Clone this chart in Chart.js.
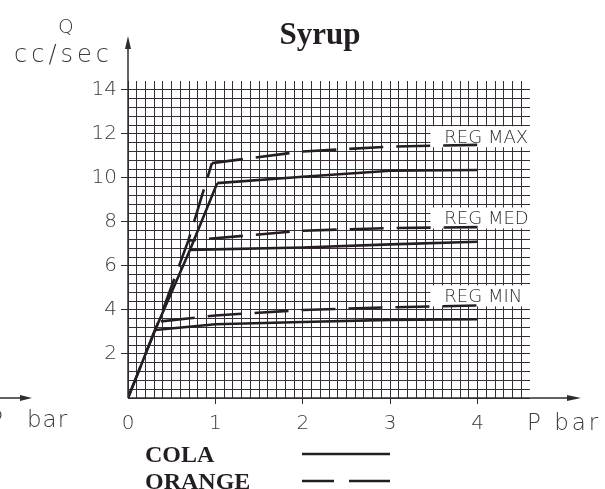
<!DOCTYPE html>
<html><head><meta charset="utf-8">
<script src="https://cdn.jsdelivr.net/npm/chart.js@4/dist/chart.umd.min.js"></script>
<style>html,body{margin:0;padding:0;background:#fff}#wrap{width:605px;height:489px;position:relative}</style>
</head><body><div id="wrap"><canvas id="c" width="605" height="489"></canvas></div>
<script>
// ---- text ----
const chartTitle = 'Syrup';
const yAxisTitle = ['Q', 'cc/sec'];
const xAxisTitle = 'P bar';
const xTickLabels = ['0', '1', '2', '3', '4'];
const yTickLabels = ['2', '4', '6', '8', '10', '12', '14'];
const regLabels = ['REG MAX', 'REG MED', 'REG MIN'];
const legendLabels = ['COLA', 'ORANGE'];

// ---- data (P bar, Q cc/sec) ----
const colaRiseX = [0, 0.31, 0.71, 1.02];
const colaRiseY = [0, 3.09, 6.73, 9.76];
const orangeRiseX = [0, 0.30, 0.35, 0.69, 0.96];
const orangeRiseY = [0, 3.0, 3.47, 7.15, 10.67];

const colaMaxX = [1.02, 2, 3, 4];
const colaMaxY = [9.76, 10.05, 10.32, 10.36];
const orangeMaxX = [0.96, 2, 3, 4];
const orangeMaxY = [10.67, 11.2, 11.42, 11.5];

const colaMedX = [0.71, 2, 3, 4];
const colaMedY = [6.73, 6.84, 6.98, 7.1];
const orangeMedX = [0.69, 2, 3, 4];
const orangeMedY = [7.15, 7.6, 7.72, 7.76];

const colaMinX = [0.31, 1, 2, 3, 4];
const colaMinY = [3.09, 3.35, 3.45, 3.55, 3.58];
const orangeMinX = [0.35, 1, 2, 3, 4];
const orangeMinY = [3.47, 3.75, 4.0, 4.12, 4.2];

// ---- helpers ----
const pts = (xs, ys) => xs.map((x, i) => ({ x, y: ys[i] }));
const gridX = []; for (let i = 0; i <= 45; i++) gridX.push(i / 10);
const gridY = []; for (let i = 0; i <= 35; i++) gridY.push(Math.round(i * 4) / 10);
const isXLabel = v => Math.abs(v - Math.round(v)) < 1e-6 && xTickLabels.includes(String(Math.round(v)));
const isYLabel = v => Math.abs(v / 2 - Math.round(v / 2)) < 1e-6 && yTickLabels.includes(String(Math.round(v)));

const ink = '#241e24';
const gridColor = '#362d36';
const axisColor = '#2e2e2e';
const labelColor = '#3a3a3a';
const dash = [34, 13];

const solid = (data) => ({ data, borderColor: ink, borderWidth: 2.6, pointRadius: 0, tension: 0, fill: false, borderCapStyle: 'butt' });
const dashed = (data, off) => ({ data, borderColor: ink, borderWidth: 2.6, pointRadius: 0, tension: 0, fill: false, borderDash: dash, borderDashOffset: off, borderCapStyle: 'butt' });

const arrow = (ctx, x, y, dir, len, half) => {
  ctx.beginPath();
  if (dir === 'up') { ctx.moveTo(x, y); ctx.lineTo(x - half, y + len); ctx.lineTo(x + half, y + len); }
  else { ctx.moveTo(x, y); ctx.lineTo(x - len, y - half); ctx.lineTo(x - len, y + half); }
  ctx.closePath(); ctx.fill();
};

const decor = {
  id: 'decor',
  beforeDatasetsDraw(chart) {
    const { ctx, chartArea, scales: { x, y } } = chart;
    const regY = [11.89, 8.2, 4.66];
    ctx.save();
    regLabels.forEach((t, i) => {
      const yc = y.getPixelForValue(regY[i]);
      const bx = x.getPixelForValue(3.46);
      ctx.fillStyle = '#fff';
      ctx.fillRect(bx, yc - 10, chartArea.right - bx + 1, 21);
      ctx.fillStyle = '#2e2e2e';
      ctx.font = "200 18px 'DejaVu Sans'";
      ctx.textAlign = 'left'; ctx.textBaseline = 'alphabetic';
      ctx.fillText(t, x.getPixelForValue(3.62), yc + 6.5);
    });
    ctx.restore();
  },
  afterDraw(chart) {
    const { ctx, scales: { x, y } } = chart;
    const x0 = x.getPixelForValue(0), y0 = y.getPixelForValue(0);
    ctx.save();
    ctx.strokeStyle = axisColor; ctx.fillStyle = axisColor; ctx.lineWidth = 1.5;
    // y axis with arrow
    ctx.beginPath(); ctx.moveTo(x0, y0); ctx.lineTo(x0, 40); ctx.stroke();
    arrow(ctx, x0, 36, 'up', 13, 3);
    // x axis with arrow
    ctx.beginPath(); ctx.moveTo(x0, y0); ctx.lineTo(575, y0); ctx.stroke();
    arrow(ctx, 581, y0, 'right', 14, 3);
    // stray arrow at left edge
    ctx.beginPath(); ctx.moveTo(0, y0); ctx.lineTo(26, y0); ctx.stroke();
    arrow(ctx, 32, y0, 'right', 12, 3);

    // axis titles
    ctx.fillStyle = '#3a3a3a';
    ctx.textBaseline = 'alphabetic'; ctx.textAlign = 'left';
    ctx.font = "200 20px 'DejaVu Sans'";
    ctx.fillText(yAxisTitle[0], 58, 33);
    ctx.font = "200 24px 'DejaVu Sans'";
    ctx.letterSpacing = '4px';
    ctx.fillText(yAxisTitle[1], 14, 62);
    ctx.font = "200 23px 'DejaVu Sans'";
    ctx.letterSpacing = '3px';
    ctx.fillText(xAxisTitle, 527, 430);
    ctx.letterSpacing = '1px';
    // cut-off label at left edge (from adjacent chart)
    ctx.fillText(xAxisTitle.split(' ')[0], -11, 427);
    ctx.fillText(xAxisTitle.split(' ')[1], 27, 427);
    ctx.letterSpacing = '0px';

    // title
    ctx.fillStyle = ink;
    ctx.font = "bold 31px 'Liberation Serif'";
    ctx.textAlign = 'center';
    ctx.fillText(chartTitle, 320, 44);

    // legend
    ctx.textAlign = 'left';
    ctx.font = "bold 24px 'Liberation Serif'";
    ctx.fillText(legendLabels[0], 145, 462);
    ctx.fillText(legendLabels[1], 145, 489);
    ctx.strokeStyle = ink; ctx.lineWidth = 2.6;
    ctx.beginPath(); ctx.moveTo(302, 454); ctx.lineTo(390, 454); ctx.stroke();
    ctx.beginPath(); ctx.moveTo(302, 481); ctx.lineTo(334, 481); ctx.moveTo(349, 481); ctx.lineTo(390, 481); ctx.stroke();
    ctx.restore();
  }
};

new Chart(document.getElementById('c'), {
  type: 'line',
  data: {
    datasets: [
      solid(pts(colaRiseX, colaRiseY)),
      dashed(pts(orangeRiseX, orangeRiseY), 0),
      solid(pts(colaMaxX, colaMaxY)),
      dashed(pts(orangeMaxX, orangeMaxY), 2.8),
      solid(pts(colaMedX, colaMedY)),
      dashed(pts(orangeMedX, orangeMedY), 26.2),
      solid(pts(colaMinX, colaMinY)),
      dashed(pts(orangeMinX, orangeMinY), 44.6)
    ]
  },
  options: {
    responsive: false,
    animation: false,
    events: [],
    layout: { padding: { top: 81, right: 75, left: 0, bottom: 0 } },
    plugins: { legend: { display: false }, tooltip: { enabled: false }, title: { display: false } },
    scales: {
      x: {
        type: 'linear', min: 0, max: 4.6,
        afterBuildTicks: s => { s.ticks = gridX.map(v => ({ value: v })); },
        afterFit: s => { s.height = 91; },
        border: { display: false },
        grid: {
          color: gridColor, lineWidth: 1, tickLength: 6,
          tickColor: c => (c.tick && isXLabel(c.tick.value) && c.tick.value > 0) ? axisColor : 'rgba(0,0,0,0)'
        },
        ticks: {
          autoSkip: false, maxRotation: 0, minRotation: 0, padding: 8, color: labelColor,
          font: { family: "'DejaVu Sans'", size: 20, weight: '200' },
          callback: v => isXLabel(v) ? xTickLabels[Math.round(v)] : ''
        }
      },
      y: {
        type: 'linear', min: 0, max: 14.4,
        afterBuildTicks: s => { s.ticks = gridY.map(v => ({ value: v })); },
        afterFit: s => { s.width = 128; },
        border: { display: false },
        grid: {
          color: gridColor, lineWidth: 1, tickLength: 7,
          tickColor: c => (c.tick && isYLabel(c.tick.value) && c.tick.value > 0) ? axisColor : 'rgba(0,0,0,0)'
        },
        ticks: {
          autoSkip: false, padding: 4, color: labelColor,
          font: { family: "'DejaVu Sans'", size: 20, weight: '200' },
          callback: v => (v > 0 && isYLabel(v)) ? yTickLabels[Math.round(v / 2) - 1] : ''
        }
      }
    }
  },
  plugins: [decor]
});
</script>
</body></html>
